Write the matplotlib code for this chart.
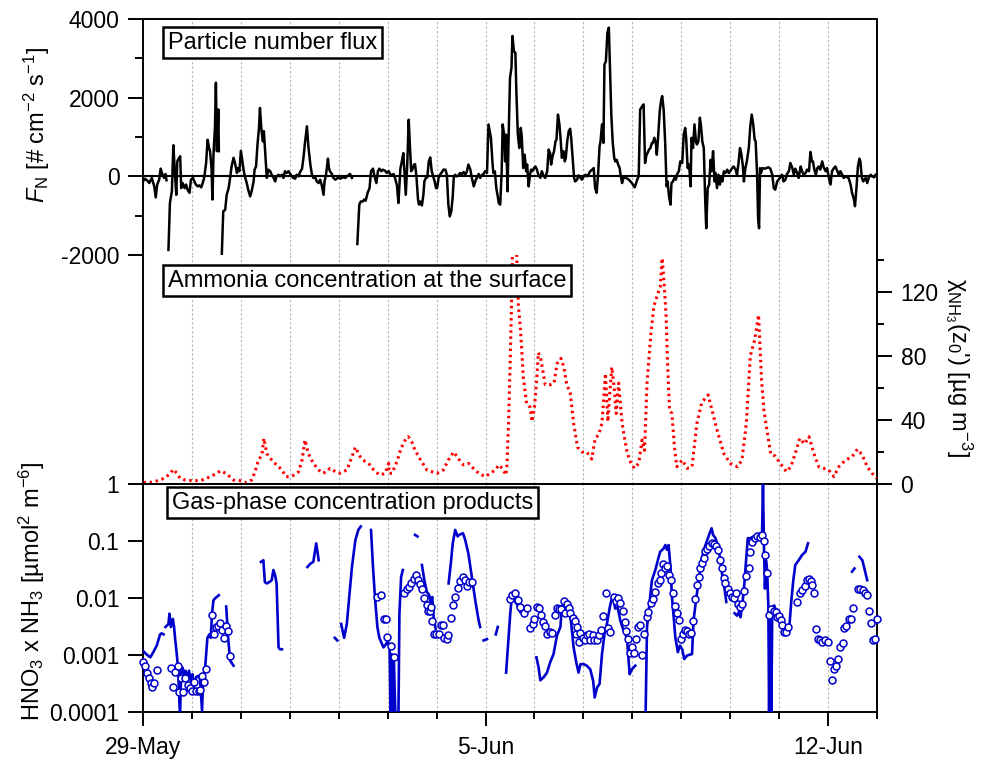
import numpy as np
import matplotlib
matplotlib.use('Agg')
import matplotlib.pyplot as plt
from matplotlib.ticker import MultipleLocator, NullLocator, FixedLocator

plt.rcParams['font.family'] = ['Liberation Sans', 'DejaVu Sans']
plt.rcParams['mathtext.fontset'] = 'custom'
plt.rcParams['mathtext.rm'] = 'Liberation Sans'
plt.rcParams['mathtext.it'] = 'Liberation Sans:italic'
plt.rcParams['mathtext.bf'] = 'Liberation Sans:bold'
plt.rcParams['axes.unicode_minus'] = False

# time = days since 29-May 00:00
date_ticks = [0, 7, 14]
date_labels = ['29-May', '5-Jun', '12-Jun']

# particle number flux, gaps between the segments
flux_a = [(0.00, -130), (0.04, -60), (0.09, -110), (0.13, -170), (0.18, -40), (0.23, -255), (0.26, -535),
          (0.29, -210), (0.33, -85), (0.36, 195), (0.40, 40), (0.43, -40), (0.46, 60), (0.48, -100)]
flux_b = [(0.52, -1870), (0.55, -680), (0.59, -380), (0.62, 790), (0.65, 130), (0.68, -470), (0.70, 380),
          (0.73, 450), (0.76, 510), (0.78, -300), (0.81, -170), (0.85, -300), (0.88, -210), (0.91, -340),
          (0.95, -420), (0.98, -85), (1.02, -40), (1.05, -130), (1.08, -210), (1.12, -255), (1.15, -230),
          (1.19, -280), (1.22, -170), (1.25, -40), (1.29, 340), (1.32, 930), (1.35, 720), (1.37, 640),
          (1.40, 210), (1.42, -590), (1.44, 550), (1.47, 1230), (1.49, 2380), (1.51, 640), (1.54, 1700),
          (1.55, 640)]
flux_c = [(1.61, -2000), (1.64, -890), (1.68, -850), (1.71, -470), (1.75, -300), (1.78, -40), (1.81, 250),
          (1.85, 470), (1.88, 340), (1.92, 85), (1.94, 210), (1.97, 130), (2.00, 650), (2.03, 380), (2.06, 130),
          (2.09, -40), (2.12, -170), (2.15, -340), (2.19, -510), (2.22, -380), (2.26, -130), (2.28, 170),
          (2.31, 250), (2.34, 810), (2.37, 1230), (2.39, 1740), (2.42, 1190), (2.45, 890), (2.47, 1150),
          (2.50, 550), (2.53, -40), (2.56, 170), (2.60, 130), (2.63, 40), (2.67, -40), (2.70, -130), (2.73, 0),
          (2.77, 40), (2.80, 0), (2.84, 40), (2.87, -40), (2.90, 130), (2.94, 85), (2.97, 130), (3.01, 60),
          (3.04, 0), (3.07, -40), (3.11, -60), (3.14, 40), (3.18, 0), (3.21, 110), (3.25, 195), (3.28, 480),
          (3.31, 850), (3.35, 1270), (3.38, 760), (3.42, 300), (3.45, 60), (3.48, -40), (3.52, -25),
          (3.55, -130), (3.59, -170), (3.62, -85), (3.65, -210), (3.69, -470), (3.71, -130), (3.74, 40),
          (3.78, 450), (3.80, 210), (3.82, 130), (3.86, 60), (3.89, -40), (3.93, -85), (3.96, -60), (3.99, -25),
          (4.03, -60), (4.06, -40), (4.10, -25), (4.13, -40), (4.17, 0), (4.20, 25), (4.23, 60), (4.27, -40)]
flux_d = [(4.38, -1720), (4.42, -720), (4.45, -640), (4.49, -640), (4.52, -590), (4.55, -620), (4.59, -420),
          (4.63, -300), (4.66, 130), (4.70, 195), (4.73, 0), (4.77, -170), (4.80, 130), (4.83, 195), (4.87, 130),
          (4.90, 170), (4.95, 140), (4.98, 85), (5.02, 130), (5.05, 60), (5.09, 25), (5.12, 60), (5.15, -40),
          (5.19, -230), (5.22, -680), (5.26, 195), (5.29, 380), (5.32, 590), (5.34, 170), (5.37, -470),
          (5.40, 300), (5.43, 1440), (5.45, 890), (5.48, 130), (5.51, 195), (5.54, 300), (5.56, 310),
          (5.59, -40), (5.62, -590), (5.64, -720), (5.67, -640), (5.70, -740), (5.73, -470), (5.75, -130),
          (5.78, -40), (5.81, -25), (5.84, 380), (5.87, 480), (5.90, 130), (5.92, 40), (5.96, -130), (5.99, -300),
          (6.01, -300), (6.04, -40), (6.07, 40), (6.11, 110), (6.14, 170), (6.18, 170), (6.21, 40), (6.24, -720),
          (6.27, -1020), (6.30, -890), (6.33, -510), (6.35, -40), (6.38, 40), (6.41, 0), (6.45, 25), (6.48, 85),
          (6.52, 60), (6.55, 110), (6.59, 40), (6.62, 130), (6.65, 300), (6.69, 170), (6.72, -40), (6.76, -255),
          (6.79, -130), (6.82, -40), (6.86, 60), (6.89, -40), (6.93, 40), (6.96, 60), (6.99, 130), (7.03, 85),
          (7.06, 1320), (7.08, 1190), (7.11, 980), (7.14, 380), (7.16, 85), (7.19, 130), (7.22, -300),
          (7.25, -510), (7.27, -680), (7.30, -720), (7.33, 130), (7.35, 1320), (7.38, 1060), (7.40, 380),
          (7.42, 1060), (7.45, -380), (7.47, 890), (7.50, 2500), (7.53, 2760), (7.55, 3570), (7.58, 3180),
          (7.61, 3140), (7.63, 2160), (7.66, 1060), (7.69, 720), (7.72, 1230), (7.74, 1020), (7.77, 210),
          (7.80, 550), (7.83, 130), (7.85, 300), (7.88, -255), (7.91, 40), (7.93, 170), (7.96, 130), (7.99, 210),
          (8.02, 250), (8.05, 170), (8.08, 40), (8.12, -40), (8.15, 130), (8.19, 0), (8.22, -40), (8.26, 130),
          (8.29, 680), (8.32, 590), (8.34, 300), (8.37, 510), (8.40, 640), (8.43, 890), (8.45, 930), (8.48, 1570),
          (8.51, 1320), (8.53, 1020), (8.56, 470), (8.59, 640), (8.62, 380), (8.64, 470), (8.67, 890),
          (8.70, 1150), (8.73, 1210), (8.75, 980), (8.78, 470), (8.81, -40), (8.83, -130), (8.87, -85),
          (8.90, 25), (8.94, -40), (8.97, -85), (9.01, 0), (9.04, 40), (9.07, 0), (9.11, 60), (9.14, 130),
          (9.18, 170), (9.21, 210), (9.24, -300), (9.27, -420), (9.30, 40), (9.33, 760), (9.35, 890), (9.38, 1320),
          (9.41, 850), (9.43, 2840), (9.46, 2930), (9.49, 3650), (9.52, 3780), (9.54, 2930), (9.57, 1570),
          (9.60, 850), (9.63, 470), (9.65, 380), (9.68, 420), (9.71, 300), (9.74, 210), (9.76, 40), (9.79, -170),
          (9.82, -40), (9.84, 0), (9.87, -40), (9.93, -85), (9.99, -170), (10.05, -280), (10.10, -85), (10.13, 0),
          (10.16, 1700), (10.20, 1780), (10.23, 1830), (10.26, 340), (10.29, 550), (10.31, 590), (10.34, 680),
          (10.37, 720), (10.40, 850), (10.42, 850), (10.45, 980), (10.48, 850), (10.50, 550), (10.53, 1060),
          (10.56, 1660), (10.59, 1950), (10.61, 2040), (10.64, 1700), (10.67, 890), (10.70, -255), (10.72, -130),
          (10.75, -510), (10.78, -720), (10.80, -170), (10.83, -130), (10.86, -40), (10.89, -85), (10.91, 40),
          (10.95, 130), (10.98, 380), (11.02, 340), (11.05, 1060), (11.08, 1230), (11.10, 980), (11.13, 210),
          (11.16, 300), (11.19, -255), (11.21, 980), (11.24, 720), (11.27, 1320), (11.30, 890), (11.32, 810),
          (11.35, 890), (11.38, 1490), (11.40, 1320), (11.43, 890), (11.46, 720), (11.49, -640), (11.51, -1320),
          (11.54, -300), (11.57, -210), (11.60, 420), (11.62, 130), (11.65, 640), (11.68, -130), (11.70, 85),
          (11.73, -300), (11.76, 40), (11.79, -210), (11.81, 0), (11.84, -130), (11.87, 130), (11.90, 85),
          (11.94, 170), (11.97, 85), (12.00, 130), (12.04, 210), (12.07, 250), (12.11, 170), (12.14, 40),
          (12.17, 340), (12.20, 720), (12.23, 550), (12.26, 250), (12.28, -130), (12.31, 210), (12.34, 380),
          (12.38, 720), (12.41, 1270), (12.44, 1570), (12.47, 1320), (12.50, 930), (12.52, 890), (12.55, 40),
          (12.57, -1060), (12.59, -1320), (12.61, 210), (12.63, 85), (12.66, 210), (12.70, 195), (12.74, 210),
          (12.78, 230), (12.82, 195), (12.86, 40), (12.89, -300), (12.92, -340), (12.96, -130), (12.99, -85),
          (13.03, 0), (13.06, 40), (13.09, -130), (13.13, -85), (13.16, 60), (13.20, 130), (13.23, 340),
          (13.27, 210), (13.30, 40), (13.33, 195), (13.37, 85), (13.40, -40), (13.44, 250), (13.47, 130),
          (13.50, 40), (13.54, 85), (13.57, 170), (13.61, 130), (13.64, 620), (13.67, 380), (13.69, 380),
          (13.72, 170), (13.75, 40), (13.78, 210), (13.81, 250), (13.84, 170), (13.88, 380), (13.91, 230),
          (13.95, 130), (13.98, 210), (14.01, 0), (14.05, -210), (14.08, 130), (14.12, 210), (14.15, 250),
          (14.19, 130), (14.22, 40), (14.25, 130), (14.29, 40), (14.32, -40), (14.36, 0), (14.39, -25),
          (14.42, -40), (14.46, -210), (14.49, -420), (14.53, -590), (14.55, -760), (14.58, -300), (14.61, 250),
          (14.64, 450), (14.66, 380), (14.69, -40), (14.72, -130), (14.74, -85), (14.77, -40), (14.80, -170),
          (14.83, -40), (14.87, 40), (14.90, 0), (14.94, -25), (14.97, 40), (15.00, 60)]

# NH3 concentration at the surface [ug m-3]
nh3 = [(0.01, 1.0), (0.14, 1.0), (0.28, 1.9), (0.38, 2.9), (0.48, 4.6), (0.55, 6.3), (0.62, 9.2), (0.69, 6.7),
       (0.76, 3.5), (0.86, 2.5), (1.00, 2.1), (1.17, 2.1), (1.30, 3.5), (1.44, 5.6), (1.59, 8.3), (1.71, 6.3),
       (1.85, 2.5), (1.98, 2.1), (2.12, 0.8), (2.22, 2.5), (2.29, 7.7), (2.36, 15), (2.43, 18), (2.47, 28.5),
       (2.53, 19), (2.63, 15), (2.73, 11.9), (2.84, 8.8), (2.92, 4.6), (3.01, 4.6), (3.09, 5.6), (3.18, 7.7),
       (3.25, 15), (3.31, 27.5), (3.38, 19), (3.48, 12.9), (3.59, 8.8), (3.67, 6.7), (3.76, 7.7), (3.82, 9.8),
       (3.93, 7.7), (4.03, 6.7), (4.17, 8.8), (4.27, 17), (4.34, 23), (4.44, 17), (4.54, 14), (4.64, 11.9),
       (4.74, 7.7), (4.85, 5.6), (4.95, 6.7), (5.02, 12.9), (5.03, 6.7), (5.09, 6.7), (5.19, 14), (5.27, 22),
       (5.36, 27.5), (5.42, 29.6), (5.49, 26.5), (5.56, 21), (5.66, 15.6), (5.80, 8.8), (5.90, 7.7), (6.01, 6.7),
       (6.14, 8.8), (6.24, 15), (6.35, 20), (6.45, 15.6), (6.55, 11.9), (6.65, 12.9), (6.75, 9.8), (6.86, 6.7),
       (6.99, 4.6), (7.10, 6.7), (7.20, 8.8), (7.27, 11.9), (7.34, 9.8), (7.42, 5.6), (7.44, 12.9), (7.47, 38),
       (7.51, 84), (7.53, 111), (7.55, 142), (7.58, 155), (7.63, 150), (7.67, 112), (7.71, 98), (7.74, 84),
       (7.77, 67), (7.84, 50), (7.91, 48), (7.95, 39), (8.00, 48), (8.05, 67), (8.08, 82), (8.13, 78), (8.22, 62),
       (8.32, 62), (8.40, 63), (8.46, 75), (8.54, 78.5), (8.60, 73), (8.66, 62), (8.73, 57), (8.80, 38),
       (8.88, 23), (8.97, 20), (9.07, 20), (9.17, 15.6), (9.24, 28.5), (9.31, 30.6), (9.38, 38), (9.45, 69),
       (9.50, 39), (9.54, 57), (9.58, 73), (9.63, 60), (9.67, 44), (9.72, 63), (9.79, 38), (9.89, 20), (9.96, 14),
       (10.04, 9.8), (10.13, 12.9), (10.20, 27.5), (10.25, 21), (10.30, 63), (10.38, 94), (10.44, 111),
       (10.50, 117), (10.57, 123), (10.61, 141), (10.65, 125), (10.69, 105), (10.72, 75), (10.76, 46),
       (10.81, 44), (10.86, 23), (10.91, 10.8), (11.02, 15), (11.12, 9.8), (11.22, 10.8), (11.32, 38),
       (11.42, 51), (11.55, 55.6), (11.63, 46), (11.73, 33.8), (11.87, 19), (12.00, 12.9), (12.15, 10.8),
       (12.24, 15), (12.33, 38), (12.41, 80), (12.50, 90), (12.58, 105.6), (12.64, 65), (12.69, 46),
       (12.75, 33.8), (12.83, 18.5), (12.92, 17.5), (13.02, 13), (13.15, 7.7), (13.24, 10.8), (13.33, 19),
       (13.42, 28.5), (13.52, 25), (13.61, 29.6), (13.71, 19), (13.81, 10.8), (13.91, 9.8), (14.01, 8.8),
       (14.12, 4.6), (14.22, 10.8), (14.36, 15), (14.49, 17), (14.60, 21.7), (14.70, 18), (14.80, 10.8),
       (14.90, 6.7), (14.99, 3.5)]

# HNO3 x NH3 product, line (with gaps); 8e-5 = below the axis
prod_line = [
    [(0.01, 0.00116), (0.08, 0.00101), (0.15, 0.00091), (0.21, 0.00112), (0.28, 0.00146), (0.35, 0.0023),
     (0.38, 0.0024), (0.42, 0.0023)],
    [(0.46, 0.0031), (0.52, 0.0035), (0.54, 0.0053), (0.57, 0.0031), (0.61, 0.0043), (0.635, 0.0031),
     (0.655, 0.0020), (0.69, 0.00104), (0.72, 0.00053), (0.756, 0.00008), (0.78, 0.00053), (0.81, 0.0006),
     (0.84, 0.00046), (0.87, 0.00053), (0.91, 0.00038), (0.94, 0.00053), (0.975, 0.00035), (1.01, 0.00046),
     (1.044, 0.00027), (1.085, 0.00041), (1.13, 0.00043), (1.165, 0.00038), (1.207, 0.000105), (1.23, 0.00041),
     (1.27, 0.0006), (1.316, 0.0020), (1.357, 0.0023), (1.385, 0.0020), (1.41, 0.0053), (1.44, 0.0091),
     (1.47, 0.0098), (1.51, 0.0105), (1.55, 0.0112)],
    [(1.70, 0.0071), (1.74, 0.0020), (1.78, 0.0008), (1.85, 0.00065)],
    [(2.41, 0.043), (2.46, 0.046), (2.49, 0.019), (2.53, 0.018), (2.58, 0.019), (2.63, 0.0205), (2.665, 0.031),
     (2.70, 0.025), (2.73, 0.018), (2.77, 0.00136), (2.80, 0.00126), (2.84, 0.00126)],
    [(3.36, 0.035), (3.42, 0.040), (3.48, 0.043), (3.54, 0.091), (3.59, 0.046)],
    [(3.92, 0.0020), (3.97, 0.0018)],
    [(4.05, 0.0035), (4.11, 0.0020), (4.165, 0.0035), (4.22, 0.012), (4.27, 0.035), (4.34, 0.104),
     (4.40, 0.156), (4.45, 0.18)],
    [(4.66, 0.156), (4.70, 0.035), (4.74, 0.0104), (4.79, 0.0031), (4.83, 0.0020), (4.915, 0.00136),
     (4.97, 0.00156), (5.00, 0.0018), (5.04, 0.00136), (5.06, 0.00008), (5.08, 0.00104), (5.105, 0.00008),
     (5.125, 0.00091), (5.16, 0.00008), (5.22, 0.00008), (5.24, 0.0053), (5.275, 0.0235), (5.31, 0.031)],
    [(5.56, 0.128), (5.61, 0.12)],
    [(5.70, 0.038), (5.75, 0.0205), (5.80, 0.0128), (5.85, 0.0112), (5.88, 0.0079), (5.91, 0.0104),
     (5.94, 0.0046), (5.98, 0.0029)],
    [(6.245, 0.018), (6.29, 0.040), (6.33, 0.091), (6.38, 0.156), (6.43, 0.12), (6.46, 0.128), (6.54, 0.137),
     (6.585, 0.104), (6.65, 0.060), (6.72, 0.0235), (6.79, 0.0091), (6.86, 0.0040), (6.89, 0.0031)],
    [(6.96, 0.0018), (7.03, 0.0019)],
    [(7.21, 0.0023), (7.25, 0.0031)],
    [(7.42, 0.00049), (7.47, 0.0020), (7.505, 0.0053), (7.54, 0.0112), (7.57, 0.0098), (7.61, 0.0085),
     (7.655, 0.0074), (7.71, 0.0056), (7.76, 0.0069), (7.81, 0.0060)],
    [(8.04, 0.00091), (8.085, 0.0006), (8.12, 0.00036), (8.19, 0.00041), (8.255, 0.00049), (8.32, 0.00074),
     (8.39, 0.00104), (8.46, 0.0022), (8.53, 0.0031), (8.56, 0.0069), (8.62, 0.0091), (8.66, 0.0053),
     (8.70, 0.0085), (8.745, 0.0040), (8.80, 0.00136), (8.855, 0.00074), (8.90, 0.00049), (8.94, 0.00069),
     (9.005, 0.00069), (9.07, 0.00065), (9.14, 0.00056), (9.20, 0.00035), (9.23, 0.00018), (9.28, 0.00027),
     (9.33, 0.00031), (9.38, 0.00104), (9.43, 0.0023), (9.48, 0.0035), (9.54, 0.0069), (9.585, 0.0105),
     (9.62, 0.0091), (9.65, 0.0065), (9.70, 0.0069), (9.755, 0.0040), (9.82, 0.0027), (9.89, 0.0020),
     (9.945, 0.00046), (9.99, 0.00056), (10.06, 0.00065)],
    [(10.27, 0.00008), (10.30, 0.0031), (10.35, 0.0079), (10.40, 0.0205), (10.47, 0.031), (10.54, 0.053),
     (10.57, 0.065), (10.64, 0.074), (10.675, 0.085), (10.71, 0.070), (10.74, 0.085), (10.78, 0.035),
     (10.81, 0.0104), (10.85, 0.0040), (10.88, 0.0020), (10.93, 0.00112), (10.97, 0.00146), (11.02, 0.00126),
     (11.06, 0.00085), (11.12, 0.00098), (11.22, 0.00104), (11.25, 0.0040), (11.31, 0.0104), (11.36, 0.0205),
     (11.40, 0.040), (11.46, 0.070), (11.53, 0.104), (11.58, 0.137), (11.62, 0.167), (11.65, 0.128),
     (11.70, 0.112), (11.75, 0.080), (11.80, 0.046), (11.85, 0.0205), (11.89, 0.0136), (11.92, 0.0085)],
    [(12.09, 0.0054), (12.14, 0.0049), (12.18, 0.0057), (12.21, 0.0046), (12.25, 0.0079), (12.29, 0.018),
     (12.33, 0.053), (12.36, 0.112), (12.41, 0.112), (12.48, 0.12), (12.55, 0.128), (12.62, 0.137),
     (12.65, 0.12), (12.67, 1.1), (12.69, 0.080), (12.71, 0.0146), (12.73, 0.046), (12.755, 0.031),
     (12.78, 0.0069), (12.795, 0.00008), (12.815, 0.0069), (12.84, 0.00008), (12.86, 0.0069), (12.90, 0.0074),
     (12.95, 0.0053), (13.00, 0.0049), (13.04, 0.0043), (13.08, 0.0040), (13.11, 0.0031), (13.15, 0.0025),
     (13.20, 0.0025), (13.25, 0.0091), (13.29, 0.0205), (13.33, 0.038), (13.40, 0.046), (13.47, 0.057),
     (13.54, 0.065), (13.59, 0.091)],
    [(14.49, 0.029), (14.54, 0.033)],
    [(14.64, 0.053), (14.70, 0.046), (14.75, 0.031), (14.80, 0.0205)],
]

# HNO3 x NH3 product, circles
prod_pts = [(0.007, 0.00076), (0.041, 0.00063), (0.075, 0.00049), (0.123, 0.00040), (0.157, 0.00032),
            (0.191, 0.00027), (0.232, 0.00032), (0.280, 0.00054), (0.580, 0.00058), (0.620, 0.00028),
            (0.661, 0.00050), (0.709, 0.00063), (0.743, 0.00022), (0.777, 0.00040), (0.818, 0.00022),
            (0.866, 0.00040), (0.914, 0.00030), (0.961, 0.00026), (1.009, 0.00023), (1.043, 0.00033),
            (1.084, 0.00023), (1.139, 0.00023), (1.173, 0.00024), (1.214, 0.00042), (1.241, 0.00033),
            (1.289, 0.00056), (1.405, 0.0051), (1.452, 0.0023), (1.486, 0.0031), (1.527, 0.0032), (1.575, 0.0037),
            (1.616, 0.0028), (1.657, 0.0020), (1.698, 0.0032), (1.745, 0.0026), (1.779, 0.00095),
            (4.78, 0.0104), (4.87, 0.0114), (4.915, 0.0043), (4.96, 0.0043), (4.996, 0.0021), (5.07, 0.00146),
            (5.12, 0.00093), (5.34, 0.0123), (5.39, 0.0141), (5.44, 0.0156), (5.48, 0.0184), (5.53, 0.0219),
            (5.58, 0.025), (5.62, 0.0205), (5.665, 0.0179), (5.71, 0.0146), (5.75, 0.0101), (5.795, 0.0074),
            (5.82, 0.0060), (5.855, 0.0058), (5.89, 0.0069), (5.91, 0.0039), (5.95, 0.0023), (5.99, 0.0023),
            (6.04, 0.0023), (6.09, 0.0034), (6.13, 0.0034), (6.16, 0.0020), (6.21, 0.0019), (6.24, 0.0022),
            (6.29, 0.0045), (6.33, 0.0076), (6.37, 0.0104), (6.43, 0.0152), (6.48, 0.020), (6.54, 0.023),
            (6.585, 0.0205), (6.62, 0.0165), (6.67, 0.019), (6.72, 0.019),
            (7.505, 0.0098), (7.55, 0.0112), (7.61, 0.0123), (7.655, 0.0094), (7.71, 0.0069), (7.78, 0.0054),
            (7.85, 0.0066), (7.91, 0.0030), (7.96, 0.0035), (8.00, 0.0043), (8.05, 0.0069), (8.10, 0.0066),
            (8.13, 0.0051), (8.17, 0.0038), (8.21, 0.0032), (8.255, 0.0023), (8.31, 0.0025), (8.36, 0.0024),
            (8.41, 0.0051), (8.46, 0.0067), (8.51, 0.0065), (8.55, 0.0063), (8.60, 0.0089), (8.63, 0.0054),
            (8.66, 0.0077), (8.70, 0.0067), (8.73, 0.0055), (8.78, 0.0045), (8.82, 0.0040), (8.84, 0.0023),
            (8.87, 0.0031), (8.90, 0.00167), (8.94, 0.0024), (8.985, 0.0020), (9.03, 0.0018), (9.07, 0.0022),
            (9.12, 0.0023), (9.14, 0.0018), (9.19, 0.0022), (9.22, 0.0018), (9.28, 0.0018), (9.31, 0.0022),
            (9.36, 0.0027), (9.41, 0.0049), (9.455, 0.0123), (9.50, 0.0030), (9.55, 0.0025), (9.62, 0.0104),
            (9.665, 0.0089), (9.71, 0.0101), (9.755, 0.0081), (9.80, 0.0060), (9.84, 0.0038), (9.88, 0.0026),
            (9.91, 0.0019), (9.945, 0.00108), (9.99, 0.00136), (10.03, 0.00108), (10.08, 0.0019), (10.12, 0.0031),
            (10.16, 0.0033), (10.20, 0.0010), (10.23, 0.0023), (10.29, 0.0046), (10.33, 0.0057), (10.38, 0.0083),
            (10.42, 0.0098), (10.47, 0.0128), (10.52, 0.018), (10.57, 0.0205),
            (10.59, 0.027), (10.63, 0.040), (10.67, 0.034), (10.71, 0.036), (10.75, 0.025), (10.79, 0.0205),
            (10.83, 0.012), (10.88, 0.0071), (10.91, 0.0054), (10.955, 0.0041), (11.00, 0.0019), (11.04, 0.0023),
            (11.08, 0.0028), (11.12, 0.0026), (11.15, 0.0023), (11.20, 0.0024), (11.24, 0.0040), (11.28, 0.0095),
            (11.32, 0.0167), (11.36, 0.023), (11.39, 0.034), (11.425, 0.041), (11.46, 0.051), (11.49, 0.066),
            (11.53, 0.072), (11.575, 0.082), (11.62, 0.094), (11.66, 0.087), (11.71, 0.082), (11.75, 0.069),
            (11.80, 0.046), (11.84, 0.034), (11.87, 0.022), (11.90, 0.0186), (11.96, 0.0142), (12.00, 0.0123),
            (12.04, 0.0104), (12.08, 0.0101), (12.12, 0.0123), (12.16, 0.0077), (12.21, 0.0069), (12.25, 0.0079),
            (12.29, 0.0133), (12.33, 0.0245), (12.38, 0.033), (12.41, 0.065), (12.455, 0.097), (12.50, 0.114),
            (12.55, 0.123), (12.60, 0.119), (12.64, 0.128), (12.69, 0.101), (12.72, 0.057), (12.755, 0.0276),
            (12.80, 0.0051), (12.84, 0.0065), (12.89, 0.0060), (12.93, 0.0057), (12.96, 0.0046), (12.99, 0.0049),
            (13.03, 0.0041), (13.06, 0.0033), (13.10, 0.0025), (13.14, 0.0025), (13.18, 0.0031), (13.37, 0.0085),
            (13.42, 0.012), (13.47, 0.0137), (13.52, 0.0161), (13.56, 0.0205), (13.61, 0.0214), (13.65, 0.0198),
            (13.68, 0.0172), (13.71, 0.012), (13.76, 0.0029), (13.79, 0.0019), (13.83, 0.0018), (13.88, 0.0017),
            (13.93, 0.0018), (14.00, 0.00167), (14.04, 0.00079), (14.08, 0.00037), (14.12, 0.00056),
            (14.17, 0.00065), (14.21, 0.00085), (14.25, 0.00136), (14.30, 0.0016), (14.32, 0.0030),
            (14.37, 0.0032), (14.42, 0.0043), (14.46, 0.0043), (14.50, 0.0066), (14.62, 0.0142), (14.66, 0.0142),
            (14.71, 0.0137), (14.75, 0.0123), (14.80, 0.0112), (14.83, 0.0060), (14.87, 0.0036), (14.91, 0.0018),
            (14.96, 0.0019), (15.00, 0.0043)]


def join(segs):
    # put NaN between segments so the line breaks
    xs, ys = [], []
    for s in segs:
        a = np.array(s, dtype=float)
        xs += list(a[:, 0]) + [np.nan]
        ys += list(a[:, 1]) + [np.nan]
    return np.array(xs), np.array(ys)


fx, fy = join([flux_a, flux_b, flux_c, flux_d])
nx, ny = join([nh3])
px, py = join(prod_line)
cx, cy = np.array(prod_pts).T

fig = plt.figure(figsize=(9.84, 7.59), dpi=100)
L, W = 143 / 984, 734 / 984
ax1 = fig.add_axes([L, 1 - 255 / 759, W, 236 / 759])
ax2 = fig.add_axes([L, 1 - 484 / 759, W, 229 / 759], sharex=ax1)
ax3 = fig.add_axes([L, 1 - 712 / 759, W, 228 / 759], sharex=ax1)

blue = '#0000cc'
fs = 16.5

# top: particle flux
ax1.plot(fx, fy, color='k', lw=1.8, zorder=3)
ax1.axhline(0, color='k', lw=1.5, zorder=2)
ax1.set_ylim(-2000, 4000)
ax1.yaxis.set_major_locator(FixedLocator([-2000, 0, 2000, 4000]))
ax1.yaxis.set_minor_locator(MultipleLocator(1000))
ax1.spines['bottom'].set_visible(False)
ax1.tick_params(axis='x', which='both', bottom=False, labelbottom=False)
ax1.tick_params(axis='y', which='major', length=11, width=1.4, labelsize=fs, pad=6)
ax1.tick_params(axis='y', which='minor', length=6, width=1.4)
ax1.set_ylabel(r'$\mathit{F}_{\mathrm{N}}$ [# cm$^{-2}$ s$^{-1}$]', fontsize=17)
ax1.yaxis.set_label_coords(-0.124, 0.55)

# middle: ammonia at the surface
ax2.plot(nx, ny, color='red', lw=2.2, ls=(0, (0.8, 1.2)), zorder=3)
ax2.set_ylim(0, 143)
ax2.spines['top'].set_visible(False)
ax2.yaxis.tick_right()
ax2.yaxis.set_label_position('right')
ax2.yaxis.set_major_locator(MultipleLocator(40))
ax2.yaxis.set_minor_locator(MultipleLocator(20))
ax2.tick_params(axis='x', which='both', bottom=False, labelbottom=False)
ax2.tick_params(axis='y', which='major', length=11, width=1.4, labelsize=fs, pad=6)
ax2.tick_params(axis='y', which='minor', length=5, width=1.4)
ax2.set_ylabel("χ$_{\\mathrm{NH_3}}$(z$_0$') [µg m$^{-3}$]", fontsize=17, rotation=270, va='bottom')
ax2.yaxis.set_label_coords(1.09, 0.507)

# bottom: gas-phase product
ax3.plot(px, py, color=blue, lw=1.9, zorder=3)
ax3.plot(cx, cy, ls='none', marker='o', ms=5, mfc='white', mec=blue, mew=1.1, zorder=4, clip_on=False)
ax3.set_yscale('log')
ax3.set_ylim(1e-4, 1)
ax3.yaxis.set_major_locator(FixedLocator([1e-4, 1e-3, 1e-2, 1e-1, 1]))
ax3.set_yticklabels(['0.0001', '0.001', '0.01', '0.1', '1'])
ax3.yaxis.set_minor_locator(NullLocator())
ax3.tick_params(axis='y', which='major', length=11, width=1.4, labelsize=fs, pad=6)
ax3.set_ylabel('HNO$_3$ x NH$_3$ [µmol$^2$ m$^{-6}$]', fontsize=17)
ax3.yaxis.set_label_coords(-0.131, 0.53)

ax3.set_xlim(0, 15)
ax3.set_xticks(date_ticks)
ax3.set_xticklabels(date_labels)
ax3.xaxis.set_minor_locator(MultipleLocator(1))
ax3.tick_params(axis='x', which='major', length=10, width=1.4, labelsize=fs, pad=7)
ax3.tick_params(axis='x', which='minor', length=5, width=1.4)

for ax in (ax1, ax2, ax3):
    ax.grid(True, axis='x', which='both', color='#b4b4b4', lw=0.8, ls=(0, (2, 2)))
    ax.set_axisbelow(True)
    for s in ax.spines.values():
        s.set_linewidth(1.4)

box = dict(boxstyle='square,pad=0.2', fc='white', ec='k', lw=1.8)
ax1.text(0.034, 0.946, 'Particle number flux', transform=ax1.transAxes, fontsize=17,
         ha='left', va='top', bbox=box, zorder=5)
ax2.text(0.034, 0.936, 'Ammonia concentration at the surface', transform=ax2.transAxes, fontsize=17,
         ha='left', va='top', bbox=box, zorder=5)
ax3.text(0.039, 0.966, 'Gas-phase concentration products', transform=ax3.transAxes, fontsize=17,
         ha='left', va='top', bbox=box, zorder=5)

fig.savefig('out.png', dpi=100)
